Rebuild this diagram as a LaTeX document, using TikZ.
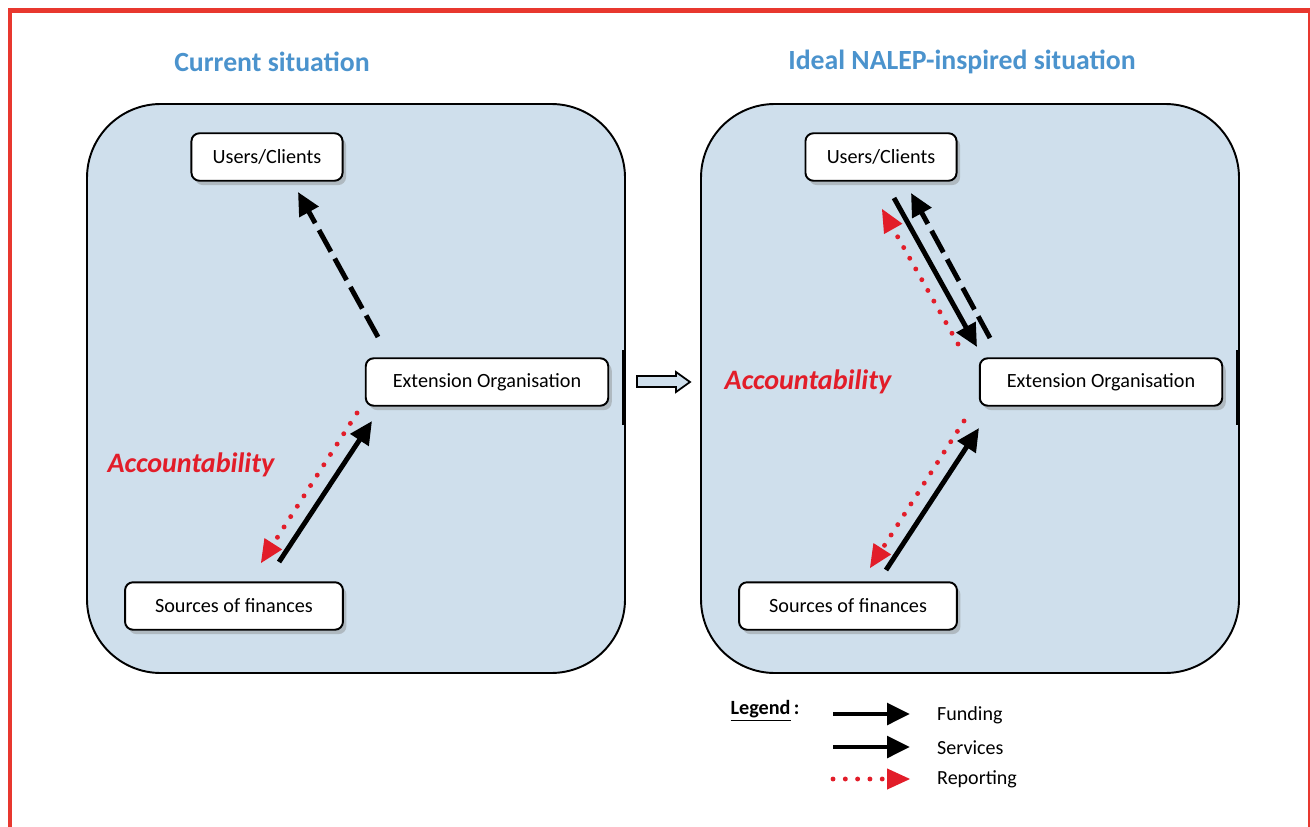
\documentclass[tikz,border=0pt]{standalone}
\usepackage{fontspec}
\setmainfont{Carlito}
\usetikzlibrary{arrows.meta,shadows}
\definecolor{panelblue}{RGB}{207,223,236}
\definecolor{titleblue}{RGB}{75,147,205}
\definecolor{frame}{RGB}{232,56,47}
\definecolor{repred}{RGB}{226,29,41}

\begin{document}
\begin{tikzpicture}[x=0.02cm,y=-0.02cm,
    >={Triangle[length=13pt,width=12pt]},
    panel/.style={draw,line width=1.1pt,fill=panelblue,rounded corners=42pt},
    box/.style={draw,line width=1.1pt,fill=white,rounded corners=4.5pt,
      minimum height=27pt,inner sep=2pt,font=\fontsize{11.5}{13}\selectfont,
      drop shadow={shadow xshift=2pt,shadow yshift=-2.5pt,opacity=.4}},
    title/.style={font=\bfseries\fontsize{15.8}{18}\selectfont,text=titleblue},
    acc/.style={font=\bfseries\itshape\fontsize{16}{19}\selectfont,text=repred},
    fund/.style={line width=2.8pt,->},
    serv/.style={fund,dash pattern=on 14pt off 4.5pt},
    rep/.style={line width=2.8pt,repred,line cap=round,dash pattern=on 0pt off 7pt,
      -{Triangle[length=13pt,width=12pt,sharp,line width=0pt]}},
    lbl/.style={font=\fontsize{11.4}{13}\selectfont,anchor=west}]
  \useasboundingbox (0,0) rectangle (1310,827);
  % frame
  \draw[frame,line width=2.8pt] (10,827)--(10,10.5)--(1310,10.5);
  \draw[frame,line width=1pt] (1309,10)--(1309,827);
  % panels
  \draw[panel] (87,104) rectangle (625,673);
  \draw[panel] (701,104) rectangle (1239,673);
  \draw[line width=2.5pt] (624,350)--(624,425) (1238,350)--(1238,425);
  \node[title] (tL) at (272,62) {Current situation};
  \node[title] (tR) at (962,62) {Ideal NALEP-inspired situation};
  % current situation
  \node[box,minimum width=86pt] (usrL) at (267,157) {Users/Clients};
  \node[box,minimum width=138pt] (extL) at (487,382) {Extension Organisation};
  \node[box,minimum width=124pt] (srcL) at (234,606) {Sources of finances};
  \coordinate (sL1) at (378,337); \coordinate (sL2) at (298,192);
  \coordinate (fL1) at (279,562); \coordinate (fL2) at (372,421);
  \coordinate (rL1) at (357,413); \coordinate (rL2) at (261,563);
  \draw[serv] (sL1)--(sL2);
  \draw[rep] (rL1)--(rL2);
  \draw[fund] (fL1)--(fL2);
  \node[acc] (aL) at (191,465) {Accountability};
  % transition
  \draw[line width=1pt,fill=panelblue,line join=miter]
    (637,376)--(676,376)--(676,372)--(690,382)--(676,392)--(676,387)--(637,387)--cycle;
  % ideal situation
  \node[box,minimum width=86pt] (usrR) at (881,157) {Users/Clients};
  \node[box,minimum width=138pt] (extR) at (1101,382) {Extension Organisation};
  \node[box,minimum width=124pt] (srcR) at (848,606) {Sources of finances};
  \coordinate (fR1) at (894,198); \coordinate (fR2) at (977,347);
  \coordinate (sR1) at (990,338); \coordinate (sR2) at (911,193);
  \coordinate (rR1) at (958,344); \coordinate (rR2) at (882,209);
  \coordinate (fR3) at (886,570); \coordinate (fR4) at (979,428);
  \coordinate (rR3) at (964,421); \coordinate (rR4) at (870,568);
  \draw[rep] (rR1)--(rR2);
  \draw[fund] (fR1)--(fR2);
  \draw[serv] (sR1)--(sR2);
  \draw[rep] (rR3)--(rR4);
  \draw[fund] (fR3)--(fR4);
  \node[acc] (aR) at (808,382) {Accountability};
  % legend
  \node[font=\bfseries\fontsize{11.5}{13}\selectfont] (leg) at (765,711) {\underline{Legend}\,:};
  \coordinate (g1a) at (833,714); \coordinate (g1b) at (910,714);
  \coordinate (g2a) at (833,747); \coordinate (g2b) at (910,747);
  \coordinate (g3a) at (833,779); \coordinate (g3b) at (910,779);
  \draw[fund] (g1a)--(g1b);
  \draw[fund] (g2a)--(g2b);
  \draw[rep] (g3a)--(g3b);
  \node[lbl] (lf) at (931,715) {Funding};
  \node[lbl] (ls) at (931,748) {Services};
  \node[lbl] (lr) at (931,779) {Reporting};
\end{tikzpicture}
\end{document}
